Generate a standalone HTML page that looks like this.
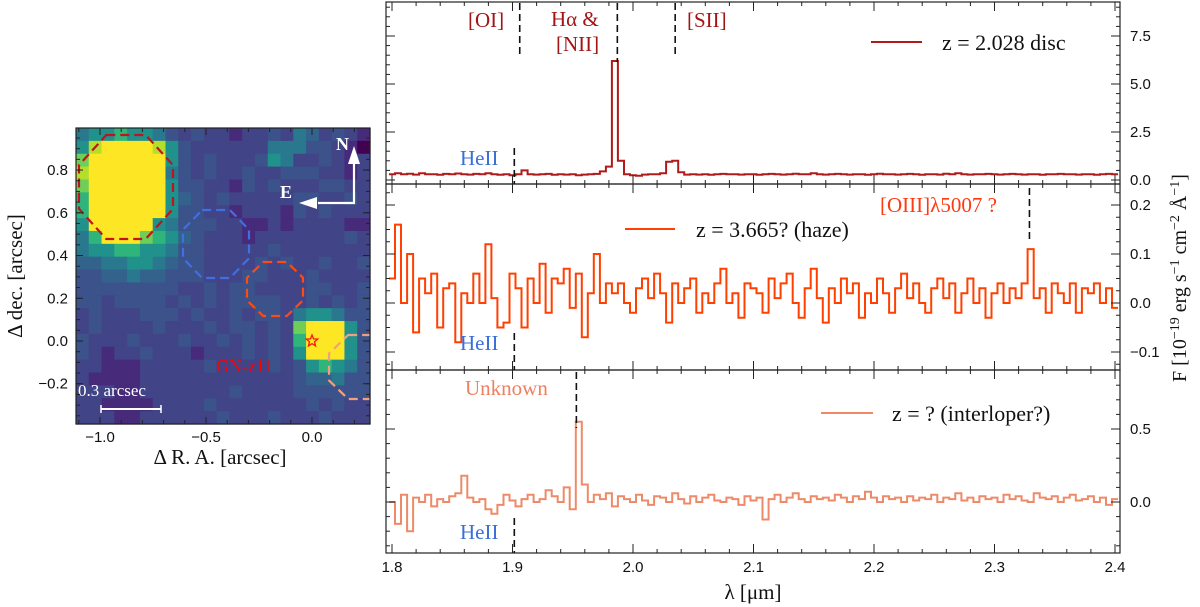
<!DOCTYPE html>
<html><head><meta charset="utf-8"><style>
html,body{margin:0;padding:0;background:#fff}
svg{display:block}
text{font-family:"Liberation Serif","DejaVu Serif",serif}
.tk{font-family:"Liberation Sans","DejaVu Sans",sans-serif;font-size:15px;fill:#111}
</style></head><body>
<svg id="fig" width="1200" height="607" xmlns="http://www.w3.org/2000/svg">
<defs><clipPath id="imgclip"><rect x="76" y="128" width="294" height="296"/></clipPath></defs>
<g id="img"></g>
<g id="spec"></g>
</svg>
<script>
// ---------- data ----------
const lamStart = 1.80, lamStep = 0.005;
const discFlux = [0.3,0.35,0.3,0.33,0.28,0.35,0.3,0.3,0.27,0.32,
0.3,0.34,0.3,0.28,0.32,0.3,0.35,0.3,0.27,0.3,
0.25,0.3,0.5,0.3,0.28,0.3,0.32,0.27,0.3,0.28,
0.3,0.25,0.28,0.3,0.32,0.45,0.7,6.2,1.0,0.3,
0.25,0.22,0.28,0.3,0.3,0.35,0.95,1.0,0.4,0.28,
0.3,0.28,0.3,0.27,0.3,0.32,0.3,0.3,0.28,0.3,
0.3,0.27,0.3,0.32,0.3,0.28,0.3,0.33,0.3,0.3,
0.35,0.3,0.28,0.3,0.32,0.3,0.28,0.3,0.3,0.27,
0.3,0.33,0.3,0.3,0.28,0.3,0.32,0.3,0.27,0.3,
0.3,0.28,0.33,0.3,0.35,0.3,0.28,0.3,0.3,0.32,
0.3,0.28,0.3,0.32,0.3,0.28,0.3,0.3,0.27,0.3,
0.3,0.32,0.3,0.3,0.28,0.3,0.3,0.27,0.3,0.32,0.3];
const hazeFlux = [0.05,0.16,0.0,0.1,-0.06,0.05,0.02,0.06,-0.05,0.03,
0.04,-0.08,0.02,0.0,0.06,0.0,0.12,0.01,-0.05,-0.04,
0.06,0.03,-0.05,0.05,0.0,0.08,-0.02,0.05,0.04,0.07,
-0.01,0.06,-0.07,0.02,0.1,0.0,0.04,0.02,0.04,0.0,
-0.02,0.03,0.05,0.01,0.06,0.02,-0.04,0.04,0.0,0.03,
0.05,-0.02,0.02,0.0,0.04,0.07,0.0,0.02,-0.03,0.04,
0.03,0.02,-0.02,0.05,0.01,0.04,0.06,0.0,-0.03,0.03,
0.07,0.01,-0.04,0.03,0.0,0.05,0.02,0.04,-0.03,0.02,
0.0,0.05,0.02,-0.02,0.03,0.06,0.01,0.04,0.0,-0.02,
0.03,0.05,0.01,0.04,-0.02,0.02,0.05,0.0,0.03,-0.03,
0.02,0.04,0.0,0.03,0.01,0.04,0.11,0.01,0.03,-0.02,
0.04,0.02,0.0,0.04,-0.02,0.03,0.02,0.04,0.0,0.03,-0.01];
const interFlux = [0.0,-0.15,0.05,-0.2,0.03,0.0,0.05,-0.03,0.02,0.0,
0.04,0.06,0.18,0.03,0.0,0.02,-0.05,-0.08,-0.02,0.05,
0.01,-0.03,0.02,0.05,0.0,0.02,0.08,0.04,0.0,0.1,
-0.05,0.55,0.12,0.0,0.05,0.02,
0.06,-0.03,0.04,0.02,0.0,0.05,0.01,-0.02,0.04,0.03,
0.0,0.06,0.02,-0.01,0.04,0.0,0.03,0.05,0.01,0.0,
0.03,0.02,-0.02,0.04,0.01,0.03,-0.12,0.02,0.05,0.0,
0.03,0.06,0.02,0.0,0.04,0.02,0.03,0.01,0.05,0.03,
0.0,0.04,0.02,0.07,0.03,0.0,0.04,0.02,0.03,0.0,
0.04,0.01,0.03,0.02,0.05,0.0,0.03,0.02,0.06,0.01,
0.03,0.0,0.04,0.02,0.03,0.0,0.05,0.02,0.04,0.01,
0.0,0.06,0.03,0.02,0.04,0.0,0.03,0.05,0.01,0.02,
0.04,0.0,0.03,-0.02,0.02];
const xTicks = [1.8,1.9,2.0,2.1,2.2,2.3,2.4];
const discTicks = [0,2.5,5,7.5];
const hazeTicks = [-0.1,0,0.1,0.2];
const interTicks = [0,0.5];
const imgXTicks = [-1.0,-0.5,0.0];
const imgYTicks = [-0.2,0,0.2,0.4,0.6,0.8];
const imgRows = [
"fgghggfdcdccbccdcfecdcb","gjkkkkjgdccccccfffddcba","ikkkkkkgdcdcccdgfccdcbc","jkkkkkkfdcdccdccdddccbc",
"ikkkkkkgddccbdcdcccddcc","hkkkkkkgedcdcccccddccdc","hkkkkkkgddccbcccbdcdccc","gkkkkkgfdddccbbcbccccbb",
"fhkkkihgedcccbcccccccdc","fgghhggfddcccccdccccccc","eeffggfeddccccdcdccdccd","ddeefeedddcccddcccdcccc",
"ddddddddccdcddccccddccd","ddcddddcdcdcddddccdcdcd","cdcccdddcdccdcddcfggfdd","cdccccdcccdcddcdcikkkgd",
"dcccdcccdccdcdcdchkkkgd","dcbccdcccbcccdcdcgkkkgd","ccbbbcccccdccccdcdghgfd","cbbbbccccccccccccdeefdd",
"cccbbcccccccdccccdddddd","ccbbbbccccdcccccccdcdcc","cccbbccccccdcccdcccdccc"];
const lvlColor = {a:"#440154",b:"#472a7a",c:"#414487",d:"#3b528b",e:"#33638d",f:"#2a788e",g:"#21918c",h:"#2fb47c",i:"#6ece58",j:"#b5de2b",k:"#fde725"};

const NS="http://www.w3.org/2000/svg";
function mk(tag,attrs,parent){const e=document.createElementNS(NS,tag);for(const k in attrs)e.setAttribute(k,attrs[k]);parent.appendChild(e);return e;}
function txt(s,attrs,parent){const e=mk('text',attrs,parent);e.textContent=s;return e;}

// ---------- image panel ----------
const IMG=document.getElementById('img');
const iL=76,iR=370,iT=128,iB=424;
const raX=v=>312+v*212, decY=v=>341-v*213.7;
const nR=imgRows.length,nC=imgRows[0].length,cw=(iR-iL)/nC,ch=(iB-iT)/nR;
imgRows.forEach((row,r)=>{for(let c=0;c<nC;c++){
 const px=mk('rect',{x:(iL+c*cw).toFixed(2),y:(iT+r*ch).toFixed(2),width:(cw+0.6).toFixed(2),height:(ch+0.6).toFixed(2),fill:lvlColor[row[c]]},IMG);
 
 
}});
const OV=mk('g',{'clip-path':'url(#imgclip)'},IMG);
function oct(cx,cy,rx,ry,color,name){
 const k=0.42;const pts=[[cx-rx*k,cy-ry],[cx+rx*k,cy-ry],[cx+rx,cy-ry*k],[cx+rx,cy+ry*k],[cx+rx*k,cy+ry],[cx-rx*k,cy+ry],[cx-rx,cy+ry*k],[cx-rx,cy-ry*k]];
 const p=mk('polygon',{points:pts.map(p=>p.join(',')).join(' '),fill:'none',stroke:color,'stroke-width':2.2,'stroke-dasharray':'9,5'},OV);
 
}
oct(126,187,47,52,'#c0141c','aperture-disc');
oct(216,244,33,34,'#3f6fe0','aperture-heII');
oct(275,289,28,27,'#ff4a10','aperture-haze');
oct(362,367,33,32,'#f0a080','aperture-interloper');
mk('rect',{x:iL,y:iT,width:iR-iL,height:iB-iT,fill:'none',stroke:'#222','stroke-width':1.2},IMG);
(function(){const cx=312,cy=341,R=6,r=2.6;let p=[];for(let i=0;i<10;i++){const a=-Math.PI/2+i*Math.PI/5,rr=i%2?r:R;p.push((cx+rr*Math.cos(a)).toFixed(1)+','+(cy+rr*Math.sin(a)).toFixed(1));}
const s=mk('polygon',{points:p.join(' '),fill:'none',stroke:'#ff1010','stroke-width':1.3},IMG);})();
let t=txt('GN-z11',{x:216,y:372,fill:'#ff0000','font-size':18,'font-family':'Liberation Mono, monospace'},IMG);
t=txt('0.3 arcsec',{x:78,y:396,fill:'#fff','font-size':17,'font-family':'Liberation Mono, monospace'},IMG);
mk('line',{x1:101,y1:409,x2:161,y2:409,stroke:'#fff','stroke-width':2},IMG);
mk('line',{x1:101,y1:405,x2:101,y2:413,stroke:'#fff','stroke-width':1.5},IMG);
mk('line',{x1:161,y1:405,x2:161,y2:413,stroke:'#fff','stroke-width':1.5},IMG);
mk('polyline',{points:'318,203 354,203 354,160',fill:'none',stroke:'#fff','stroke-width':2.2},IMG);
mk('polygon',{points:'354,146 348,164 360,164',fill:'#fff'},IMG);
mk('polygon',{points:'299,203 317,197 317,209',fill:'#fff'},IMG);
t=txt('N',{x:336,y:150,fill:'#fff','font-size':18,'font-weight':'bold'},IMG);
t=txt('E',{x:280,y:198,fill:'#fff','font-size':18,'font-weight':'bold'},IMG);
imgXTicks.forEach(v=>{const x=raX(v);mk('line',{x1:x,y1:iB,x2:x,y2:iB-7,stroke:'#222'},IMG);mk('line',{x1:x,y1:iT,x2:x,y2:iT+7,stroke:'#222'},IMG);
 const l=txt((v<0?'\u2212':'')+Math.abs(v).toFixed(1),{x:x,y:iB+18,'text-anchor':'middle',class:'tk'},IMG);});
for(let v=-1.1;v<=0.26;v+=0.1){const x=raX(v);mk('line',{x1:x,y1:iB,x2:x,y2:iB-4,stroke:'#222'},IMG);mk('line',{x1:x,y1:iT,x2:x,y2:iT+4,stroke:'#222'},IMG);}
imgYTicks.forEach(v=>{const y=decY(v);mk('line',{x1:iL,y1:y,x2:iL+7,y2:y,stroke:'#222'},IMG);mk('line',{x1:iR,y1:y,x2:iR-7,y2:y,stroke:'#222'},IMG);
 const l=txt((v<0?'\u2212':'')+Math.abs(v).toFixed(1),{x:iL-8,y:y+5,'text-anchor':'end',class:'tk'},IMG);});
for(let v=-0.35;v<=1.0;v+=0.05){const y=decY(v);if(y>iT&&y<iB){mk('line',{x1:iL,y1:y,x2:iL+4,y2:y,stroke:'#222'},IMG);mk('line',{x1:iR,y1:y,x2:iR-4,y2:y,stroke:'#222'},IMG);}}
t=txt('\u0394 R. A. [arcsec]',{x:220,y:464,'text-anchor':'middle','font-size':21,fill:'#111'},IMG);
t=txt('\u0394 dec. [arcsec]',{x:0,y:0,'text-anchor':'middle','font-size':21,fill:'#111',transform:'translate(22,276) rotate(-90)'},IMG);

// ---------- spectra ----------
const SP=document.getElementById('spec');
const pL=386,pR=1120;
const xS=l=>392+(l-1.8)*1205;
const panels=[
 {top:2,bot:184,y0:180,ppu:19.2,data:discFlux,color:'#b01a1a',ticks:discTicks,minor:0.5,name:'disc'},
 {top:184,bot:370,y0:303,ppu:490,data:hazeFlux,color:'#ff4000',ticks:hazeTicks,minor:0.025,name:'haze'},
 {top:370,bot:553,y0:502,ppu:146,data:interFlux,color:'#ee8a68',ticks:interTicks,minor:0.1,name:'interloper'}];
panels.forEach(P=>{
 const yS=v=>P.y0-v*P.ppu;
 const g=mk('g',{},SP);
 let d='';const n=P.data.length;
 for(let i=0;i<n;i++){const l=lamStart+i*lamStep;const xa=xS(l-lamStep/2),xb=xS(l+lamStep/2),y=yS(P.data[i]).toFixed(1);
  d+=(i===0?'M'+Math.max(pL,xa).toFixed(1)+','+y:'L'+xa.toFixed(1)+','+y)+'L'+Math.min(pR,xb).toFixed(1)+','+y;}
 const path=mk('path',{d:d,fill:'none',stroke:P.color,'stroke-width':2,'stroke-linejoin':'miter'},g);
 
 mk('rect',{x:pL,y:P.top,width:pR-pL,height:P.bot-P.top,fill:'none',stroke:'#222','stroke-width':1.2},g);
 xTicks.forEach(v=>{const x=xS(v);mk('line',{x1:x,y1:P.bot,x2:x,y2:P.bot-9,stroke:'#222'},g);mk('line',{x1:x,y1:P.top,x2:x,y2:P.top+9,stroke:'#222'},g);});
 for(let v=1.8;v<2.405;v+=0.02){const x=xS(v);mk('line',{x1:x,y1:P.bot,x2:x,y2:P.bot-4,stroke:'#222'},g);mk('line',{x1:x,y1:P.top,x2:x,y2:P.top+4,stroke:'#222'},g);}
 P.ticks.forEach(v=>{const y=yS(v);mk('line',{x1:pL,y1:y,x2:pL+9,y2:y,stroke:'#222'},g);mk('line',{x1:pR,y1:y,x2:pR-9,y2:y,stroke:'#222'},g);
  const l=txt((v<0?'\u2212':'')+Math.abs(v).toFixed(1),{x:pR+10,y:y+5,class:'tk'},g);});
 for(let k=-40;k<=40;k++){const v=k*P.minor;const y=yS(v);if(y>P.top+1&&y<P.bot-1){mk('line',{x1:pL,y1:y,x2:pL+4,y2:y,stroke:'#222'},g);mk('line',{x1:pR,y1:y,x2:pR-4,y2:y,stroke:'#222'},g);}}
});
xTicks.forEach(v=>{const l=txt(v.toFixed(1),{x:xS(v),y:572,'text-anchor':'middle',class:'tk'},SP);});
function dash(x,y1,y2){mk('line',{x1:x,y1:y1,x2:x,y2:y2,stroke:'#111','stroke-width':1.6,'stroke-dasharray':'7,4'},SP);}
function lab(s,x,y,c,name){const l=txt(s,{x:x,y:y,fill:c,'font-size':21},SP);}
dash(xS(1.906),3,57);dash(xS(1.987),3,62);dash(xS(2.035),3,57);dash(xS(1.9015),148,184);
lab('[OI]',468,27,'#a31515','label-oi');lab('H\u03b1 &',551,26,'#a31515','label-halpha');lab('[NII]',556,51,'#a31515','label-nii');lab('[SII]',687,27,'#a31515','label-sii');
lab('HeII',460,165,'#3a6fd8','label-heii-top');
dash(xS(2.329),188,240);dash(xS(1.9015),333,370);
lab('[OIII]\u03bb5007 ?',880,212,'#ff3a10','label-oiii');lab('HeII',460,350,'#3a6fd8','label-heii-mid');
dash(xS(1.953),372,428);dash(xS(1.9015),518,553);
lab('Unknown',465,395,'#ee8060','label-unknown');lab('HeII',460,539,'#3a6fd8','label-heii-bot');
function leg(x1,x2,y,c,s,tx,name){const g=mk('g',{},SP);
 mk('line',{x1:x1,y1:y,x2:x2,y2:y,stroke:c,'stroke-width':2},g);txt(s,{x:tx,y:y+8,'font-size':22,fill:'#111'},g);}
leg(871,922,42,'#b01a1a','z = 2.028 disc',942,'legend-disc');
leg(625,675,229,'#ff4000','z = 3.665? (haze)',696,'legend-haze');
leg(821,873,413,'#ee8a68','z = ? (interloper?)',892,'legend-interloper');
t=txt('\u03bb [\u03bcm]',{x:753,y:599,'text-anchor':'middle','font-size':21,fill:'#111'},SP);
t=mk('text',{x:0,y:0,'text-anchor':'middle','font-size':20,fill:'#111',transform:'translate(1186,278) rotate(-90)'},SP);

t.innerHTML='F [10<tspan dy="-7" font-size="14">\u221219</tspan><tspan dy="7"> erg s</tspan><tspan dy="-7" font-size="14">\u22121</tspan><tspan dy="7"> cm</tspan><tspan dy="-7" font-size="14">\u22122</tspan><tspan dy="7"> \u00c5</tspan><tspan dy="-7" font-size="14">\u22121</tspan><tspan dy="7">]</tspan>';
</script>
</body></html>
